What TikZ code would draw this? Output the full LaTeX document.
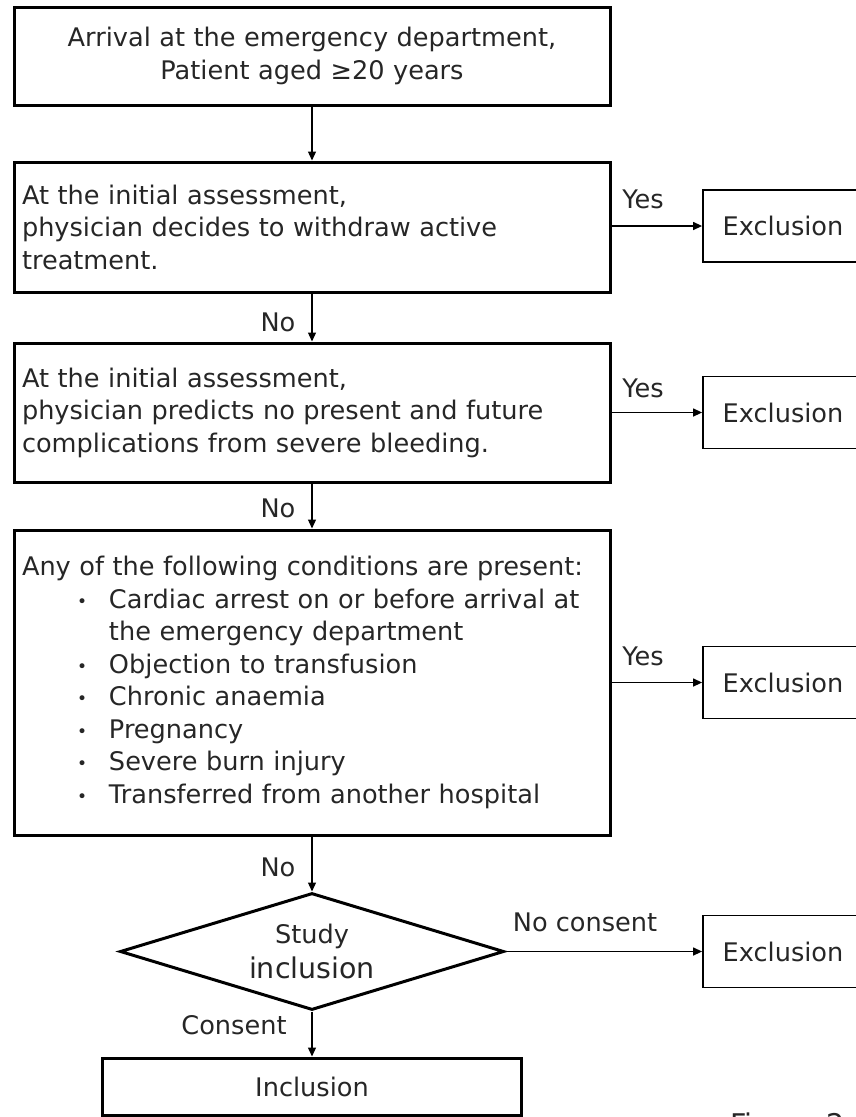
\documentclass[tikz,border=0pt]{standalone}
\usepackage{fontspec}
\setmainfont{DejaVu Sans}
\usetikzlibrary{shapes.geometric,arrows.meta}
\newcommand{\bul}{\makebox[32pt][l]{\fontsize{17pt}{20pt}\selectfont\raisebox{1pt}{•}}}
\begin{document}
\begin{tikzpicture}[x=1pt,y=-1pt,
  txt/.style={font=\fontsize{25.6pt}{32.5pt}\selectfont, text=black!85},
  mainbox/.style={txt, draw=black, line width=3pt, inner xsep=8pt, inner ysep=0pt,
    text width=580pt, minimum height=#1},
  excbox/.style={txt, draw=black, line width=1.8pt, minimum width=160pt, minimum height=72pt, inner sep=0pt},
  arr/.style={draw=black, line width=1.3pt, -{Triangle[length=9pt,width=8pt]}},
  lbl/.style={txt, inner sep=0pt}
]
\useasboundingbox (0,0) rectangle (856,1117);
\clip (0,0) rectangle (856,1117);

% main boxes
\node[mainbox=98pt, align=center] (b1) at (312,56)
  {Arrival at the emergency department,\\Patient aged ≥20 years};
\node[mainbox=130pt, align=left] (b2) at (312,227)
  {At the initial assessment,\\physician decides to withdraw active\\treatment.};
\node[mainbox=139pt, align=left] (b3) at (312,412.5)
  {At the initial assessment,\\physician predicts no present and future\\complications from severe bleeding.};
\node[mainbox=305pt, align=left] (b4) at (312,682.5)
  {Any of the following conditions are present:\\
   \hspace*{55pt}\bul Cardiac arrest on or before arrival at\\
   \hspace*{87pt}the emergency department\\
   \hspace*{55pt}\bul Objection to transfusion\\
   \hspace*{55pt}\bul Chronic anaemia\\
   \hspace*{55pt}\bul Pregnancy\\
   \hspace*{55pt}\bul Severe burn injury\\
   \hspace*{55pt}\bul Transferred from another hospital};

% decision
\node[diamond, draw=black, line width=3pt, minimum width=384pt, minimum height=117pt,
  inner sep=0pt, shape aspect=3.28, align=center, text=black!85,
  font=\fontsize{28.5pt}{35pt}\selectfont] (dec) at (312,951.5)
  {{\fontsize{25.6pt}{35pt}\selectfont Study}\\inclusion};

% inclusion
\node[txt, draw=black, line width=3pt, minimum width=419pt, minimum height=57pt, inner sep=0pt]
  (inc) at (312,1086.5) {Inclusion};

% exclusion boxes
\node[excbox] (e1) at (783,226) {Exclusion};
\node[excbox] (e2) at (783,412.5) {Exclusion};
\node[excbox] (e3) at (783,682.5) {Exclusion};
\node[excbox] (e4) at (783,951.5) {Exclusion};

% vertical connectors
\draw[arr] (b1.south) -- (b2.north);
\draw[arr] (b2.south) -- (b3.north);
\draw[arr] (b3.south) -- (b4.north);
\draw[arr] (b4.south) -- (dec.north);
\draw[arr] (dec.south) -- (inc.north);

% horizontal connectors
\draw[arr] (e1.west -| b2.east) -- (e1.west);
\draw[arr] (e2.west -| b3.east) -- (e2.west);
\draw[arr] (e3.west -| b4.east) -- (e3.west);
\draw[arr] (dec.east) -- (e4.west);

% labels
\node[lbl] (y1) at (643,199) {Yes};
\node[lbl] (y2) at (643,388) {Yes};
\node[lbl] (y3) at (643,656) {Yes};
\node[lbl] (n1) at (278,322) {No};
\node[lbl] (n2) at (278,508) {No};
\node[lbl] (n3) at (278,867) {No};
\node[lbl] (nc) at (585,922) {No consent};
\node[lbl] (cs) at (234,1025) {Consent};

% partly visible caption
\node[txt, font=\fontsize{28.5pt}{34pt}\selectfont, anchor=base west, inner sep=0pt] (fig) at (730,1134) {Figure 2};
\end{tikzpicture}
\end{document}
